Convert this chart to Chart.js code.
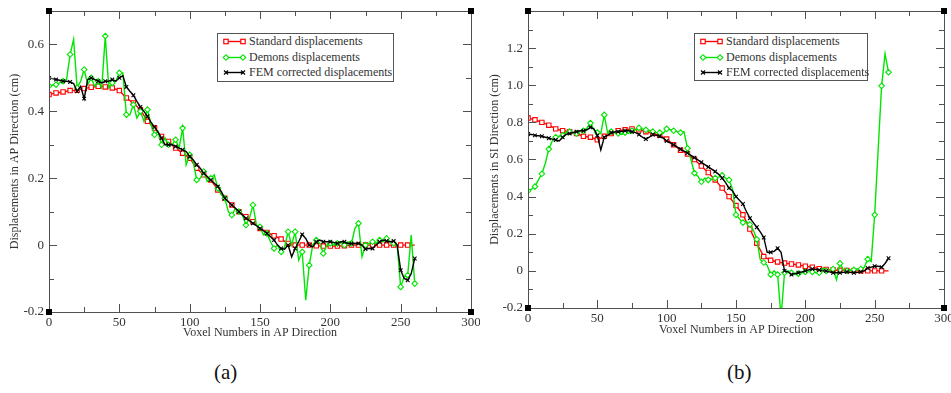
<!DOCTYPE html>
<html>
<head>
<meta charset="utf-8">
<title>AP / SI displacements</title>
<script src="https://cdn.jsdelivr.net/npm/chart.js@4.4.0/dist/chart.umd.min.js"></script>
<style>
  body { margin: 0; background: #fff; width: 951px; height: 393px; position: relative; overflow: hidden;
         font-family: "Liberation Serif", "Times New Roman", serif; }
  canvas { position: absolute; top: 0; }
  .legend { position: absolute; border: 1px solid #555; background: #fff; color: #333; font-size: 12px; box-sizing: border-box; }
  .legend .row { position: absolute; left: 0; right: 0; height: 15px; line-height: 15px; white-space: nowrap; }
  .legend svg { position: absolute; left: 4px; top: 2px; }
  .legend span { position: absolute; left: 31px; }
  .caption { position: absolute; top: 359px; font-size: 21px; color: #111; line-height: 26px; }
</style>
</head>
<body>
<canvas id="chartAP" width="480" height="345" style="left:0"></canvas>
<canvas id="chartSI" width="471" height="345" style="left:480px"></canvas>
<div class="caption" style="left:214px">(a)</div>
<div class="caption" style="left:727px">(b)</div>

<script>
// ---- data ----
const seriesNames = ['Standard displacements', 'Demons displacements', 'FEM corrected displacements'];

// sampling positions (voxel number): standard every 5, demons / FEM every 2.5
const coarseVoxels = Array.from({ length: 53 }, (_, i) => i * 5);
const fineVoxels = Array.from({ length: 105 }, (_, i) => i * 2.5);

const xTicks = [0, 50, 100, 150, 200, 250, 300];
const xMinorTicks = [25, 75, 125, 175, 225, 275];

// (a) AP direction
const apYTicks = [-0.2, 0, 0.2, 0.4, 0.6];
const apYMinorTicks = [-0.1, 0.1, 0.3, 0.5];

const apStandard = [
  0.45, 0.455, 0.458, 0.462, 0.463, 0.468, 0.472, 0.475, 0.473, 0.47,
  0.462, 0.44, 0.425, 0.405, 0.37, 0.35, 0.325, 0.31, 0.29, 0.275,
  0.26, 0.23, 0.21, 0.195, 0.165, 0.14, 0.12, 0.1, 0.085, 0.07,
  0.05, 0.038, 0.028, 0.018, 0.005, 0.0, 0.0, 0.0, -0.002, -0.003,
  -0.003, -0.003, -0.002, 0.0, 0.0, 0.0, 0.0, 0.0, 0.0, 0.0,
  0.0, 0.0, 0.0
];
const apDemons = [
  0.476, 0.478, 0.48, 0.485, 0.49, 0.495, 0.57, 0.615, 0.47, 0.49,
  0.525, 0.48, 0.5, 0.475, 0.49, 0.47, 0.625, 0.47, 0.485, 0.49,
  0.515, 0.515, 0.39, 0.39, 0.42, 0.38, 0.4, 0.37, 0.405, 0.36,
  0.33, 0.34, 0.3, 0.32, 0.3, 0.3, 0.315, 0.29, 0.35, 0.24,
  0.27, 0.25, 0.195, 0.2, 0.22, 0.19, 0.2, 0.21, 0.17, 0.15,
  0.14, 0.1, 0.09, 0.11, 0.1, 0.09, 0.06, 0.08, 0.12, 0.06,
  0.055, 0.03, 0.035, 0.01, -0.01, 0.0, -0.02, -0.005, 0.04, 0.0,
  0.04, -0.045, -0.02, -0.165, -0.06, 0.0, 0.015, 0.005, -0.025, 0.0,
  0.005, 0.0, 0.005, 0.01, 0.0, 0.01, 0.005, 0.05, 0.065, -0.035,
  0.0, 0.005, 0.01, 0.005, 0.015, 0.01, 0.02, 0.01, 0.005, 0.0,
  -0.125, -0.095, -0.09, 0.03, -0.115
];
const apFem = [
  0.5, 0.498, 0.495, 0.493, 0.49, 0.49, 0.488, 0.483, 0.46, 0.475,
  0.438, 0.495, 0.5, 0.495, 0.49, 0.485, 0.49, 0.49, 0.495, 0.49,
  0.5, 0.507, 0.473, 0.46, 0.448, 0.43, 0.413, 0.4, 0.385, 0.368,
  0.353, 0.338, 0.32, 0.3, 0.3, 0.3, 0.295, 0.29, 0.285, 0.28,
  0.265, 0.255, 0.24, 0.23, 0.215, 0.205, 0.195, 0.185, 0.175, 0.16,
  0.14, 0.13, 0.12, 0.11, 0.1, 0.09, 0.08, 0.073, 0.065, 0.058,
  0.05, 0.043, 0.035, 0.025, 0.015, 0.0, -0.01, -0.012, 0.0, -0.035,
  -0.01, 0.01, 0.032, 0.02, 0.0, -0.005, 0.01, 0.015, 0.01, 0.01,
  0.01, 0.008, 0.005, 0.01, 0.01, 0.005, 0.005, 0.005, 0.005, 0.0,
  -0.012, -0.01, -0.01, 0.0, 0.01, 0.015, 0.012, 0.01, 0.012, 0.0,
  -0.075, -0.1, -0.105, -0.085, -0.04
];

// (b) SI direction
const siYTicks = [-0.2, 0, 0.2, 0.4, 0.6, 0.8, 1, 1.2];
const siYMinorTicks = [-0.1, 0.1, 0.3, 0.5, 0.7, 0.9, 1.1, 1.3];

const siStandard = [
  0.823, 0.814, 0.8, 0.785, 0.765, 0.755, 0.75, 0.74, 0.725, 0.72,
  0.706, 0.725, 0.74, 0.755, 0.76, 0.765, 0.76, 0.75, 0.74, 0.73,
  0.71, 0.68, 0.65, 0.63, 0.6, 0.565, 0.53, 0.49, 0.446, 0.4,
  0.352, 0.302, 0.225, 0.149, 0.077, 0.057, 0.048, 0.042, 0.037, 0.032,
  0.025, 0.02, 0.012, 0.008, 0.005, 0.003, 0.002, 0.0, 0.0, 0.0,
  0.0, 0.0, 0.0
];
const siDemons = [
  0.431, 0.44, 0.454, 0.49, 0.523, 0.58, 0.656, 0.7, 0.72, 0.725,
  0.73, 0.745, 0.75, 0.745, 0.74, 0.75, 0.755, 0.77, 0.796, 0.76,
  0.745, 0.74, 0.84, 0.74, 0.75, 0.745, 0.74, 0.735, 0.745, 0.74,
  0.755, 0.76, 0.77, 0.765, 0.76, 0.755, 0.75, 0.745, 0.745, 0.74,
  0.765, 0.76, 0.755, 0.75, 0.745, 0.75, 0.66, 0.6, 0.527, 0.51,
  0.48, 0.5, 0.49, 0.495, 0.5, 0.505, 0.515, 0.5, 0.49, 0.44,
  0.302, 0.28, 0.26, 0.265, 0.25, 0.22, 0.17, 0.06, 0.045, 0.03,
  -0.02, 0.0, -0.02, -0.25, -0.01, 0.0, -0.01, -0.02, -0.015, -0.01,
  -0.005, 0.0, -0.005, -0.01, -0.01, 0.015, 0.0, 0.005, 0.01, -0.048,
  0.04, 0.005, 0.0, 0.005, 0.005, 0.01, 0.01, 0.02, 0.063, 0.05,
  0.302, 0.65, 0.997, 1.17, 1.07
];
const siFem = [
  0.737, 0.735, 0.73, 0.728, 0.725, 0.72, 0.715, 0.71, 0.705, 0.7,
  0.72, 0.735, 0.74, 0.745, 0.75, 0.755, 0.755, 0.76, 0.773, 0.765,
  0.73, 0.652, 0.72, 0.73, 0.745, 0.748, 0.75, 0.752, 0.755, 0.755,
  0.75, 0.745, 0.735, 0.72, 0.71, 0.72, 0.735, 0.73, 0.725, 0.715,
  0.7, 0.69, 0.68, 0.668, 0.655, 0.645, 0.635, 0.622, 0.61, 0.598,
  0.585, 0.572, 0.56, 0.548, 0.535, 0.52, 0.5, 0.475, 0.446, 0.43,
  0.4, 0.38, 0.36, 0.32, 0.284, 0.26, 0.235, 0.21, 0.18, 0.1,
  0.1, 0.105, 0.122, 0.1, 0.0, -0.005, -0.02, -0.015, -0.01, -0.005,
  0.0, 0.005, 0.01, 0.008, 0.005, 0.0, 0.0, -0.005, -0.01, -0.01,
  -0.01, -0.008, -0.005, -0.008, -0.01, -0.008, -0.005, 0.0, 0.015, 0.02,
  0.025, 0.025, 0.02, 0.04, 0.068
];

const RED = '#ff0000';
const GREEN = '#00e600';
const BLACK = '#000000';
const TEXT = '#333333';
const SERIF = '"Liberation Serif", "Times New Roman", serif';

const toPoints = (xs, ys) => ys.map((y, i) => ({ x: xs[i], y }));

/**
 * Frame in xmgrace style: box, inward ticks on every side, corner squares
 */
const graceFrame = {
    id: 'graceFrame',
    afterDatasetsDraw(chart, args, opts) {
        const { ctx, chartArea: a, scales: { x, y } } = chart;
        ctx.save();
        ctx.strokeStyle = '#505050';
        ctx.lineWidth = 1;
        ctx.strokeRect(Math.round(a.left) + 0.5, Math.round(a.top) + 0.5,
            Math.round(a.right - a.left), Math.round(a.bottom - a.top));

        ctx.beginPath();
        const xMark = (v, len) => {
            const px = Math.round(x.getPixelForValue(v)) + 0.5;
            ctx.moveTo(px, a.bottom); ctx.lineTo(px, a.bottom - len);
            ctx.moveTo(px, a.top); ctx.lineTo(px, a.top + len);
        };
        const yMark = (v, len) => {
            const py = Math.round(y.getPixelForValue(v)) + 0.5;
            ctx.moveTo(a.left, py); ctx.lineTo(a.left + len, py);
            ctx.moveTo(a.right, py); ctx.lineTo(a.right - len, py);
        };
        opts.xMajor.forEach(v => xMark(v, 8));
        opts.xMinor.forEach(v => xMark(v, 5));
        opts.yMajor.forEach(v => yMark(v, 8));
        opts.yMinor.forEach(v => yMark(v, 5));
        ctx.stroke();

        // corner squares
        ctx.fillStyle = '#000';
        [[a.left, a.top], [a.right, a.top], [a.left, a.bottom], [a.right, a.bottom]].forEach(([cx, cy]) => {
            ctx.fillRect(Math.round(cx) - 3, Math.round(cy) - 3, 6, 6);
        });
        ctx.restore();
    }
};

function makeDatasets(std, demons, fem) {
    return [{
        label: seriesNames[2],
        data: toPoints(fineVoxels, fem),
        borderColor: BLACK,
        borderWidth: 1.4,
        pointStyle: 'crossRot',
        pointRadius: c => (c.dataIndex % 2 === 0 ? 2.6 : 0),
        pointBorderColor: BLACK,
        pointBorderWidth: 1.1,
        order: 0
    }, {
        label: seriesNames[1],
        data: toPoints(fineVoxels, demons),
        borderColor: GREEN,
        borderWidth: 1.4,
        pointStyle: 'rectRot',
        pointRadius: c => (c.dataIndex % 2 === 0 ? 2.8 : 0),
        pointBorderColor: GREEN,
        pointBackgroundColor: '#fff',
        pointBorderWidth: 1.1,
        order: 1
    }, {
        label: seriesNames[0],
        data: toPoints(coarseVoxels, std),
        borderColor: RED,
        borderWidth: 1.4,
        pointStyle: 'rect',
        pointRadius: c => (c.dataIndex < std.length - 1 ? 3.1 : 0),
        pointBorderColor: RED,
        pointBackgroundColor: '#fff',
        pointBorderWidth: 1.1,
        order: 2
    }];
}

function makeChart(id, cfg) {
    const tickFont = { family: SERIF, size: 13 };
    const titleFont = { family: SERIF, size: 12 };
    return new Chart(document.getElementById(id), {
        type: 'line',
        data: { datasets: makeDatasets(cfg.std, cfg.demons, cfg.fem) },
        options: {
            responsive: false,
            animation: false,
            events: [],
            layout: { padding: { top: cfg.top, right: cfg.right, left: 0, bottom: 0 } },
            plugins: {
                legend: { display: false },
                tooltip: { enabled: false },
                graceFrame: {
                    xMajor: xTicks, xMinor: xMinorTicks,
                    yMajor: cfg.yTicks, yMinor: cfg.yMinor
                }
            },
            scales: {
                x: {
                    type: 'linear',
                    min: 0,
                    max: 300,
                    grid: { display: false, drawTicks: false },
                    border: { display: false },
                    afterBuildTicks: s => { s.ticks = xTicks.map(v => ({ value: v })); },
                    afterFit: s => { s.height = cfg.xAxisHeight; s.paddingLeft = 0; s.paddingRight = 0; },
                    ticks: { color: TEXT, font: tickFont, padding: 3, maxRotation: 0 },
                    title: {
                        display: true,
                        text: 'Voxel Numbers in AP Direction',
                        color: TEXT,
                        font: titleFont,
                        padding: { top: 0, bottom: cfg.xTitlePad }
                    }
                },
                y: {
                    type: 'linear',
                    min: cfg.yMin,
                    max: cfg.yMax,
                    grid: { display: false, drawTicks: false },
                    border: { display: false },
                    afterBuildTicks: s => { s.ticks = cfg.yTicks.map(v => ({ value: v })); },
                    afterFit: s => { s.width = cfg.yAxisWidth; s.paddingTop = 0; s.paddingBottom = 0; },
                    ticks: { color: TEXT, font: tickFont, padding: 5 },
                    title: {
                        display: true,
                        text: cfg.yTitle,
                        color: TEXT,
                        font: titleFont,
                        padding: { top: 8, bottom: 0 }
                    }
                }
            }
        },
        plugins: [graceFrame]
    });
}

makeChart('chartAP', {
    std: apStandard, demons: apDemons, fem: apFem,
    yMin: -0.2, yMax: 0.7, yTicks: apYTicks, yMinor: apYMinorTicks,
    yTitle: 'Displacements in AP Direction (cm)',
    top: 11, right: 9, yAxisWidth: 49, xAxisHeight: 33, xTitlePad: 5
});

makeChart('chartSI', {
    std: siStandard, demons: siDemons, fem: siFem,
    yMin: -0.2, yMax: 1.4, yTicks: siYTicks, yMinor: siYMinorTicks,
    yTitle: 'Displacements in SI Direction (cm)',
    top: 11, right: 7, yAxisWidth: 48, xAxisHeight: 37, xTitlePad: 8
});

// ---- legends (HTML boxes inside the plot areas) ----
const legendStyles = [
    { color: RED, symbol: 'square' },
    { color: GREEN, symbol: 'diamond' },
    { color: BLACK, symbol: 'cross' }
];

function symbolSvg(kind, color, cx, cy) {
    if (kind === 'square') {
        return `<rect x="${cx - 2.2}" y="${cy - 2.2}" width="4.4" height="4.4" fill="#fff" stroke="${color}" stroke-width="1.2"/>`;
    }
    if (kind === 'diamond') {
        return `<polygon points="${cx},${cy - 2.8} ${cx + 2.8},${cy} ${cx},${cy + 2.8} ${cx - 2.8},${cy}" fill="#fff" stroke="${color}" stroke-width="1.1"/>`;
    }
    return `<path d="M${cx - 2} ${cy - 2}L${cx + 2} ${cy + 2}M${cx - 2} ${cy + 2}L${cx + 2} ${cy - 2}" stroke="${color}" stroke-width="1.2"/>`;
}

function addLegend(left, top, width, height) {
    const box = document.createElement('div');
    box.className = 'legend';
    Object.assign(box.style, { left: left + 'px', top: top + 'px', width: width + 'px', height: height + 'px' });
    seriesNames.forEach((name, i) => {
        const st = legendStyles[i];
        const row = document.createElement('div');
        row.className = 'row';
        row.style.top = (0 + i * 15.7) + 'px';
        row.innerHTML =
            `<svg width="26" height="11" viewBox="0 0 26 11">` +
            `<line x1="4" y1="5.5" x2="21" y2="5.5" stroke="${st.color}" stroke-width="1.4"/>` +
            symbolSvg(st.symbol, st.color, 4, 5.5) + symbolSvg(st.symbol, st.color, 21, 5.5) +
            `</svg><span>${name}</span>`;
        box.appendChild(row);
    });
    document.body.appendChild(box);
}

addLegend(217, 33, 177, 49);
addLegend(694, 33, 174, 48);
</script>
</body>
</html>
